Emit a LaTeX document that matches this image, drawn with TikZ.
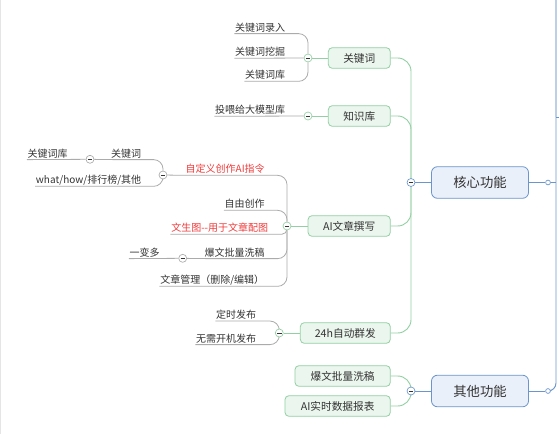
\documentclass[tikz,border=0pt]{standalone}
\usepackage{fontspec}
\setmainfont{Noto Sans CJK SC}
\usetikzlibrary{backgrounds}
\definecolor{gfill}{HTML}{EBF6EE}
\definecolor{gedge}{HTML}{93CFA3}
\definecolor{bfill}{HTML}{EAF0F9}
\definecolor{bedge}{HTML}{6B95CB}
\definecolor{lgray}{HTML}{ABABAB}
\definecolor{ink}{HTML}{333333}
\definecolor{hot}{HTML}{F23A3A}

\begin{document}
\begin{tikzpicture}[
  x=0.75pt,
  y=-0.75pt,
  topic/.style={draw=bedge,fill=bfill,line width=0.6pt,rounded corners=4.5pt,minimum width=72.8pt,minimum height=23.7pt,font=\fontsize{10}{12}\selectfont,text=ink},
  sub/.style={draw=gedge,fill=gfill,line width=0.6pt,rounded corners=3pt,minimum height=15.5pt,anchor=east,font=\fontsize{8}{10}\selectfont,text=ink},
  leaf/.style={anchor=east,inner xsep=0.4pt,inner ysep=0.8pt,text height=6.6pt,text depth=0.9pt,font=\fontsize{7.5}{9}\selectfont,text=ink},
  fold/.style={circle,draw=#1,fill=white,line width=0.5pt,inner sep=0pt,minimum size=6pt},
  joint/.style={circle,draw=bedge,fill=white,line width=0.5pt,inner sep=0pt,minimum size=3.6pt},
  bline/.style={draw=bedge,line width=0.7pt},
  gline/.style={draw=gedge,line width=0.7pt,rounded corners=10pt},
  lline/.style={draw=lgray,line width=0.6pt,rounded corners=7pt}
]
\useasboundingbox (0,0) rectangle (559,434);
\draw[black!10,line width=1pt] (0.5,0) -- (0.5,434);

\node[topic] (core) at (480,182.5) {核心功能};
\node[topic] (other) at (480,391) {其他功能};
\node[joint] (cj) at (548,182.5) {};
\node[joint] (oj) at (548,391) {};
\coordinate (stem) at (556,117);
\coordinate (out) at (562,117);
\coordinate (top) at (556,0);

\node[sub,minimum width=46.5pt] (kw) at (390.7,58) {关键词};
\node[sub,minimum width=46.5pt] (kb) at (390.7,116) {知识库};
\node[sub,minimum width=61.7pt] (ai) at (390.7,226) {AI文章撰写};
\node[sub,minimum width=67.5pt] (pub) at (390.7,333) {24h自动群发};
\node[sub,minimum width=71.5pt] (wash) at (390.7,376) {爆文批量洗稿};
\node[sub,minimum width=79pt] (rep) at (390.7,406) {AI实时数据报表};

\node[fold=bedge] (fc) at (411,182.5) {};
\node[fold=bedge] (fo) at (411,391) {};
\node[fold=gedge] (f1) at (308,58) {};
\node[fold=gedge] (f2) at (308,116) {};
\node[fold=gedge] (f3) at (287,226) {};
\node[fold=gedge] (f4) at (279.3,333) {};
\node[fold=lgray] (f5) at (163,175) {};
\node[fold=lgray] (f6) at (90,159.3) {};
\node[fold=lgray] (f7) at (182.7,258.3) {};
\foreach \f in {fc,fo,f1,f2,f3,f4,f5,f6,f7} {
  \draw[ink,line width=0.5pt] (\f) ++(-2.2,0) -- ++(4.4,0);
}

\node[leaf] (l1) at (286,27.3) {关键词录入};
\node[leaf] (l2) at (286,52) {关键词挖掘};
\node[leaf] (l3) at (286,75) {关键词库};
\node[leaf] (l4) at (286,110) {投喂给大模型库};
\node[leaf,text=hot] (l5) at (265.5,169) {自定义创作AI指令};
\node[leaf] (l6) at (142,153.3) {关键词};
\node[leaf] (l7) at (68.5,153.3) {关键词库};
\node[leaf] (l8) at (142,180) {what/how/排行榜/其他};
\node[leaf] (l9) at (265.5,204) {自由创作};
\node[leaf,text=hot] (l10) at (269,228) {文生图-{}-用于文章配图};
\node[leaf] (l11) at (265.5,252.3) {爆文批量洗稿};
\node[leaf] (l12) at (160.5,252.3) {一变多};
\node[leaf] (l13) at (265,280) {文章管理（删除/编辑）};
\node[leaf] (l14) at (257,314.7) {定时发布};
\node[leaf] (l15) at (257,338.3) {无需开机发布};

\begin{pgfonlayer}{background}
\draw[bline] (core) -- (fc);
\draw[bline] (other) -- (fo);
\draw[bline] (core) -- (cj);
\draw[bline] (other) -- (oj);
\draw[bline] (cj) -- (cj -| stem);
\draw[bline,rounded corners=6pt] (oj) -| (stem);
\draw[bline] (stem) -- (out);
\draw[draw=bedge!45,line width=1.2pt] (stem) -- (top);

\draw[gline] (kw) -| (fc);
\draw[gline] (kb) -| (fc);
\draw[gline] (ai) -| (fc);
\draw[gline] (pub) -| (fc);
\draw[gline] (f1) -- (kw);
\draw[gline] (f2) -- (kb);
\draw[gline] (f3) -- (ai);
\draw[gline] (f4) -- (pub);
\draw[gline] (wash) -| (fo);
\draw[gline] (rep) -| (fo);

\draw[lline] (l1.south west) -| (f1);
\draw[lline] (l2.south west) -- (f1);
\draw[lline] (l3.south west) -| (f1);
\draw[lline] (l4.south west) -- (f2);
\draw[lline] (f5) -- (l5.south west) -| (f3);
\draw[lline] (f6) -- (l6.south west) -| (f5);
\draw[lline] (l7.south west) -- (f6);
\draw[lline] (l8.south west) -| (f5);
\draw[lline] (l9.south west) -| (f3);
\draw[lline,rounded corners=4pt] (l10.south west) -| (f3);
\draw[lline] (f7) -- (l11.south west) -| (f3);
\draw[lline] (l12.south west) -- (f7);
\draw[lline] (l13.south west) -| (f3);
\draw[lline] (l14.south west) -| (f4);
\draw[lline] (l15.south west) -| (f4);
\end{pgfonlayer}
\end{tikzpicture}
\end{document}
